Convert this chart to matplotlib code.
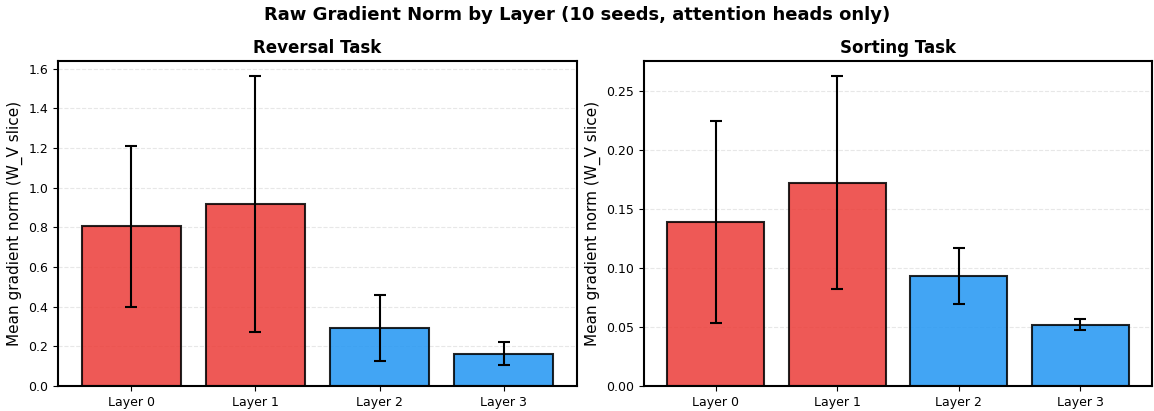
import numpy as np
import matplotlib as mpl
mpl.use('Agg')
import matplotlib.pyplot as plt

# data
layers = ['Layer 0', 'Layer 1', 'Layer 2', 'Layer 3']
rev_mean = [0.805, 0.915, 0.292, 0.163]
rev_std = [0.405, 0.645, 0.168, 0.057]
sort_mean = [0.139, 0.172, 0.093, 0.052]
sort_std = [0.0855, 0.090, 0.024, 0.005]
colors = ['#EC3C38', '#EC3C38', '#2196F3', '#2196F3']

W, H = 1154.0, 411.0
fig = plt.figure(figsize=(W / 100, H / 100), dpi=100)
ax1 = fig.add_axes([58 / W, 1 - 386 / H, 519 / W, 325 / H])
ax2 = fig.add_axes([644 / W, 1 - 386 / H, 508 / W, 325 / H])
panels = [(ax1, 'Reversal Task', rev_mean, rev_std),
          (ax2, 'Sorting Task', sort_mean, sort_std)]
x = np.arange(len(layers))
for ax, title, mean, std in panels:
    ax.bar(x, mean, width=0.8, yerr=std, capsize=4.5, color=colors,
           edgecolor='black', linewidth=1.5, alpha=0.85,
           error_kw={'elinewidth': 1.5, 'capthick': 1.5})
    ax.set_xticks(x)
    ax.set_xticklabels(layers, fontsize=9)
    ax.tick_params(axis='y', labelsize=9)
    ax.set_ylabel('Mean gradient norm (W_V slice)', fontsize=11)
    ax.set_title(title, fontsize=12, fontweight='bold')
    ax.set_ylim(bottom=0)
    ax.grid(axis='y', linestyle='--', alpha=0.3)
    ax.set_axisbelow(True)
    for s in ax.spines.values():
        s.set_linewidth(1.5)

fig.suptitle('Raw Gradient Norm by Layer (10 seeds, attention heads only)',
             fontsize=13, fontweight='bold', y=0.985)
fig.savefig('out.png', dpi=100)
plt.close()
